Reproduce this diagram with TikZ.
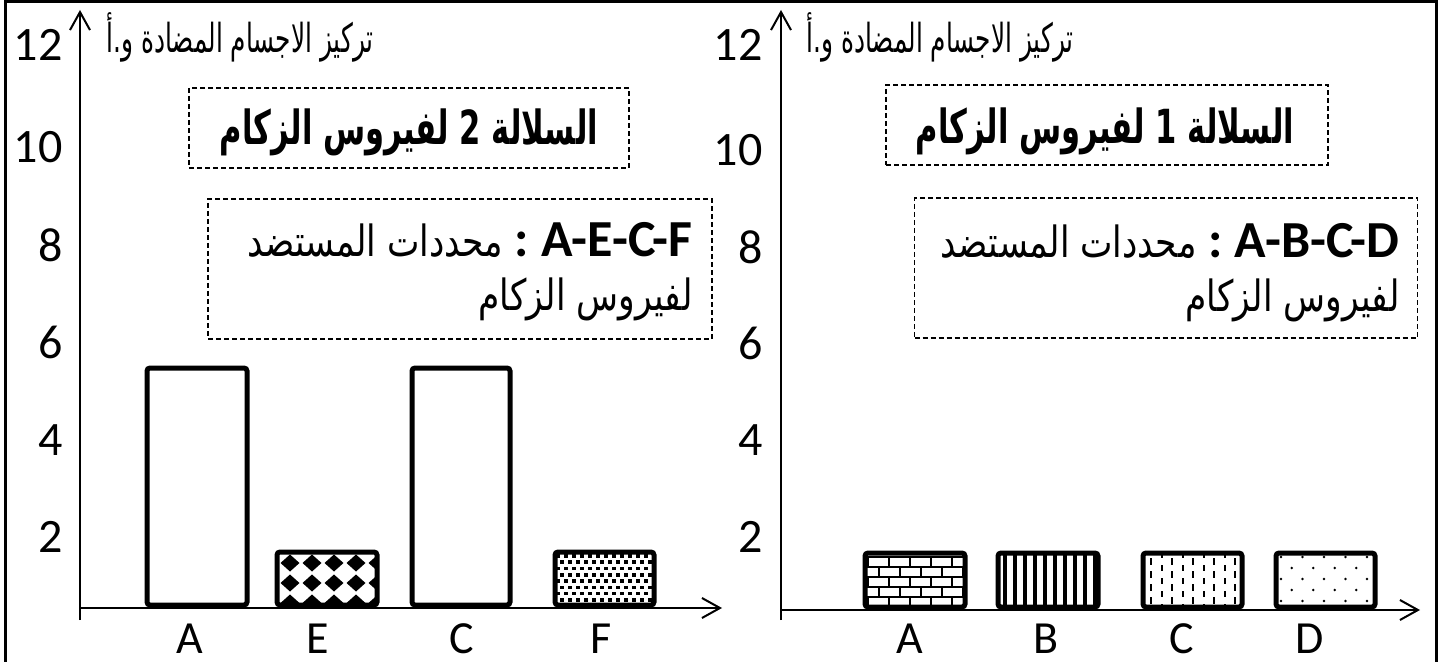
\documentclass[tikz,border=0pt]{standalone}
\usepackage{fontspec}
\setmainfont{Carlito}
\newfontfamily\arabicnarrow[Script=Arabic,FakeStretch=0.65]{DejaVu Sans}
\newfontfamily\arabiclabel[Script=Arabic,FakeStretch=0.62]{DejaVu Sans}
\newfontfamily\arabicbody[Script=Arabic,FakeStretch=0.8]{DejaVu Sans}
\TeXXeTstate=1
\usetikzlibrary{arrows.meta}
\newcommand{\artxt}[1]{{\beginR #1\endR}}
\tikzset{
  axisline/.style={line width=1pt,-{Straight Barb[length=9pt,width=10pt]}},
  barbox/.style={line width=2.5pt,rounded corners=1.5pt},
  dbox/.style={draw,dash pattern=on 2.5pt off 1.5pt,line width=0.7pt,inner sep=0pt},
  ticklab/.style={font=\fontsize{24}{28}\selectfont,anchor=east,inner sep=0pt},
  xlab/.style={font=\fontsize{23}{27}\selectfont,inner sep=0pt},
  ylab/.style={font=\arabiclabel\fontsize{20}{23}\selectfont,anchor=base west,inner sep=0pt},
  titletxt/.style={font=\arabicnarrow\fontsize{23.5}{26}\selectfont\bfseries,anchor=base,inner sep=0pt},
  bodytxt/.style={anchor=base east,inner sep=0pt},
  frameline/.style={line width=1.5pt}
}
\newcommand{\latb}{\fontsize{26}{30}\selectfont\bfseries}
\newcommand{\arbody}{\arabicbody\fontsize{21.5}{25}\selectfont}
\begin{document}
\begin{tikzpicture}[x=0.5pt,y=-0.5pt]
\useasboundingbox (0,0) rectangle (1449,662);
\fill[white] (0,0) rectangle (1449,662);
% frame
\coordinate (fbl) at (5,662);
\coordinate (ftl) at (5,2);
\coordinate (ftr) at (1436,2);
\coordinate (fbr) at (1436,662);
\draw[frameline] (fbl) -- (ftl) -- (ftr) -- (fbr);

% ===== LEFT CHART =====
\coordinate (ly0) at (80,620);
\coordinate (ly1) at (80,10);
\coordinate (lx0) at (80,608);
\coordinate (lx1) at (722,608);
\draw[axisline] (ly0) -- (ly1);
\draw[axisline] (lx0) -- (lx1);
\foreach \v/\yy in {12/45,10/147,8/245,6/342,4/440,2/537}
  \node[ticklab] (lt\v) at (63,\yy) {\v};
\node[ylab] (lylab) at (106,53) {\artxt{تركيز الاجسام المضادة و.أ}};

% bars
\draw[barbox,fill=white] (147,368) rectangle (247,605);
\draw[barbox,fill=white] (412,368) rectangle (510,605);
% E diamonds
\begin{scope}
\clip (277,552) rectangle (377,605);
\foreach \i in {-1,...,5}{
  \foreach \j in {0,...,3}{
    \fill[shift={({290+22*\i},{543+20*\j})}] (-9.5,0) -- (0,-8.5) -- (9.5,0) -- (0,8.5) -- cycle;
  }}
\end{scope}
\draw[barbox] (277,552) rectangle (377,605);
% F dots
\begin{scope}
\clip (555,552) rectangle (654,605);
\foreach \j in {0,...,8}{
  \foreach \i in {0,...,12}{
    \pgfmathsetmacro{\xx}{556+8*\i+4*mod(\j,2)}
    \pgfmathsetmacro{\yy}{554+6.3*\j}
    \fill (\xx,\yy) rectangle ++(3.6,3.6);
  }}
\end{scope}
\draw[barbox] (555,552) rectangle (654,605);

\foreach \n/\xx in {A/190,E/318,C/462,F/601}
  \node[xlab] (lx\n) at (\xx,639) {\n};

% boxes
\node[dbox,minimum width=220pt,minimum height=40pt] (ltitlebox) at (409,128) {};
\node[titletxt] (ltitle) at (409,145) {\artxt{السلالة 2 لفيروس الزكام}};
\node[dbox,minimum width=252pt,minimum height=70pt] (lbodybox) at (460,269) {};
\node[bodytxt] (lbody1) at (693,257) {{\arbody\artxt{محددات المستضد}}{\latb\ :\ A-E-C-F}};
\node[bodytxt] (lbody2) at (693,311) {{\arbody\artxt{لفيروس الزكام}}};

% ===== RIGHT CHART =====
\coordinate (ry0) at (781,620);
\coordinate (ry1) at (781,10);
\coordinate (rx0) at (781,610);
\coordinate (rx1) at (1420,610);
\draw[axisline] (ry0) -- (ry1);
\draw[axisline] (rx0) -- (rx1);
\foreach \v/\yy in {12/45,10/150,8/247,6/343,4/440,2/537}
  \node[ticklab] (rt\v) at (763,\yy) {\v};
\node[ylab] (rylab) at (806,53) {\artxt{تركيز الاجسام المضادة و.أ}};

% A bricks
\begin{scope}
\clip (865,553) rectangle (965,607);
\foreach \j in {0,...,5}{
  \draw[line width=1pt] (865,{557+10*\j}) -- (965,{557+10*\j});
  \foreach \i in {-1,...,5}{
    \pgfmathsetmacro{\xx}{868+21*\i+10.5*mod(\j,2)}
    \draw[line width=1pt] (\xx,{557+10*\j}) -- (\xx,{567+10*\j});
  }}
\end{scope}
\draw[barbox] (865,553) rectangle (965,607);
% B stripes
\begin{scope}
\clip (998,553) rectangle (1098,607);
\foreach \i in {0,...,9}
  \fill ({1003+10*\i},553) rectangle ++(4,54);
\end{scope}
\draw[barbox] (998,553) rectangle (1098,607);
% C dashes
\begin{scope}
\clip (1143,553) rectangle (1242,607);
\foreach \i in {0,...,9}{
  \foreach \j in {-1,...,4}{
    \pgfmathsetmacro{\xx}{1150+10.5*\i}
    \pgfmathsetmacro{\yy}{558+13*\j+6.5*mod(\i,2)}
    \fill (\xx,\yy) rectangle ++(2,6.5);
  }}
\end{scope}
\draw[barbox] (1143,553) rectangle (1242,607);
% D dots
\begin{scope}
\clip (1276,553) rectangle (1375,607);
\foreach \j in {0,...,4}{
  \foreach \i in {-1,...,5}{
    \pgfmathsetmacro{\xx}{1281+21.5*\i+10.75*mod(\j,2)}
    \fill (\xx,{557+11*\j}) circle (1.3);
  }}
\end{scope}
\draw[barbox] (1276,553) rectangle (1375,607);

\foreach \n/\xx in {A/910,B/1046,C/1182,D/1310}
  \node[xlab] (rx\n) at (\xx,639) {\n};

\node[dbox,minimum width=221pt,minimum height=40pt] (rtitlebox) at (1107,125) {};
\node[titletxt] (rtitle) at (1105,144) {\artxt{السلالة 1 لفيروس الزكام}};
\node[dbox,minimum width=251.5pt,minimum height=70pt] (rbodybox) at (1166,268) {};
\node[bodytxt] (rbody1) at (1400,258) {{\arbody\artxt{محددات المستضد}}{\latb\ :\ A-B-C-D}};
\node[bodytxt] (rbody2) at (1400,312) {{\arbody\artxt{لفيروس الزكام}}};
\end{tikzpicture}
\end{document}
